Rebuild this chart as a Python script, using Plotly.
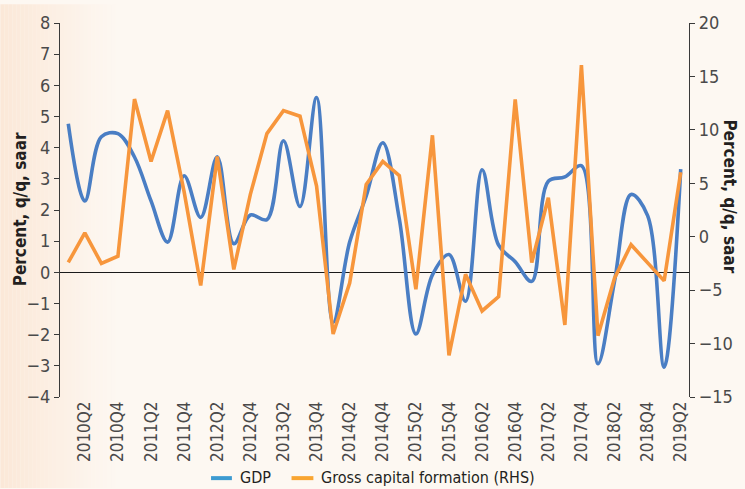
import plotly.graph_objects as go

quarters = [f"{y}Q{q}" for y in range(2010, 2020) for q in range(1, 5)][:38]

gdp = [4.77, 2.29, 4.35, 4.45, 3.7, 2.29, 0.97, 3.10, 1.76, 3.71,
       0.92, 1.84, 1.69, 4.22, 2.11, 5.61, -1.61, 0.97, 2.45, 4.16,
       1.71, -1.98, -0.08, 0.57, -0.93, 3.29, 0.87, 0.34, -0.29, 2.92,
       3.06, 3.42, -2.93, -0.29, 2.5, 1.82, -3.04, 3.31]

gcf = [-2.41, 0.36, -2.50, -1.82, 12.88, 7.04, 11.8, 4.2, -4.56, 7.5,
       -3.06, 3.96, 9.65, 11.8, 11.28, 4.74, -9.11, -4.33, 4.88, 7.04,
       5.71, -4.92, 9.49, -11.1, -3.52, -6.95, -5.6, 12.85, -2.41, 3.65,
       -8.26, 16.05, -9.26, -3.88, -0.75, -2.47, -4.13, 6.03]

tick_labels = quarters[1::2]

W, H = 745, 489
ML, MR, MT, MB = 60, 52, 19, 92
PW = W - ML - MR
PH = H - MT - MB

FONT = "Liberation Sans Narrow, DejaVu Sans Condensed, Arial Narrow, sans-serif"
TICKC = "#4a4a4a"
AXC = "#3a3a3a"
BG = "rgb(253,248,242)"

fig = go.Figure()
fig.add_trace(go.Scatter(x=quarters, y=gdp, mode="lines", name="GDP",
                         line=dict(color="#4a7ec4", width=3.6, shape="spline", smoothing=1.0),
                         showlegend=False))
fig.add_trace(go.Scatter(x=quarters, y=gcf, mode="lines", name="Gross capital formation (RHS)",
                         yaxis="y2",
                         line=dict(color="#f7963c", width=3.6),
                         showlegend=False))

def px2paper_x(px):
    return (px - ML) / PW

def px2paper_y(py):
    return 1 - (py - MT) / PH

shapes = []
# left-side peach gradient of the page background
n = 30
c0 = (251, 232, 216)
c1 = (253, 248, 242)
for i in range(n):
    t = i / (n - 1)
    c = tuple(round(c0[k] + (c1[k] - c0[k]) * t) for k in range(3))
    x0 = i * 4
    x1 = x0 + 4
    shapes.append(dict(type="rect", xref="paper", yref="paper",
                       x0=px2paper_x(x0), x1=px2paper_x(x1),
                       y0=px2paper_y(H), y1=px2paper_y(0),
                       fillcolor=f"rgb{c}", line=dict(width=0), layer="below"))

# legend swatches
shapes.append(dict(type="line", xref="paper", yref="paper",
                   x0=px2paper_x(212), x1=px2paper_x(233),
                   y0=px2paper_y(479), y1=px2paper_y(479),
                   line=dict(color="#3d9bd1", width=4)))
shapes.append(dict(type="line", xref="paper", yref="paper",
                   x0=px2paper_x(293), x1=px2paper_x(315),
                   y0=px2paper_y(479), y1=px2paper_y(479),
                   line=dict(color="#f9a531", width=4)))

annotations = [
    dict(text="GDP", xref="paper", yref="paper", x=px2paper_x(239), y=px2paper_y(478),
         xanchor="left", yanchor="middle", showarrow=False,
         font=dict(family=FONT, size=16, color="#231f20")),
    dict(text="Gross capital formation (RHS)", xref="paper", yref="paper",
         x=px2paper_x(321), y=px2paper_y(478),
         xanchor="left", yanchor="middle", showarrow=False,
         font=dict(family=FONT, size=16, color="#231f20")),
    dict(text="<b>Percent, q/q, saar</b>", xref="paper", yref="paper",
         x=px2paper_x(20), y=px2paper_y(207), textangle=-90,
         xanchor="center", yanchor="middle", showarrow=False,
         font=dict(family=FONT, size=17, color="#231f20")),
    dict(text="<b>Percent, q/q, saar</b>", xref="paper", yref="paper",
         x=px2paper_x(734), y=px2paper_y(194), textangle=90,
         xanchor="center", yanchor="middle", showarrow=False,
         font=dict(family=FONT, size=17, color="#231f20")),
]

fig.update_layout(
    width=W, height=H,
    margin=dict(l=ML, r=MR, t=MT, b=MB, pad=0),
    paper_bgcolor=BG,
    plot_bgcolor="rgba(0,0,0,0)",
    showlegend=False,
    shapes=shapes,
    annotations=annotations,
    xaxis=dict(type="category", categoryorder="array", categoryarray=quarters,
               range=[-0.5, len(quarters) - 0.5],
               tickmode="array", tickvals=tick_labels, ticktext=tick_labels,
               tickangle=-90, showgrid=False, zeroline=False, showline=False,
               ticks="", ticklen=0,
               tickfont=dict(family=FONT, size=17, color=TICKC)),
    yaxis=dict(range=[-4, 8], dtick=1, tick0=0, showgrid=False,
               zeroline=True, zerolinecolor="#1a1a1a", zerolinewidth=1.2,
               showline=True, linecolor=AXC, linewidth=1.2,
               ticks="outside", ticklen=5, tickcolor=AXC, tickwidth=1.2,
               tickfont=dict(family=FONT, size=18, color=TICKC)),
    yaxis2=dict(range=[-15, 20], dtick=5, tick0=0, overlaying="y", side="right",
                showgrid=False, zeroline=False,
                showline=True, linecolor=AXC, linewidth=1.2,
                ticks="outside", ticklen=5, tickcolor=AXC, tickwidth=1.2,
                tickfont=dict(family=FONT, size=18, color=TICKC)),
)

fig.write_html(
    "out.html",
    config={"displayModeBar": False},
    post_script="document.body.style.margin='0';document.body.style.background='" + BG + "';",
)
